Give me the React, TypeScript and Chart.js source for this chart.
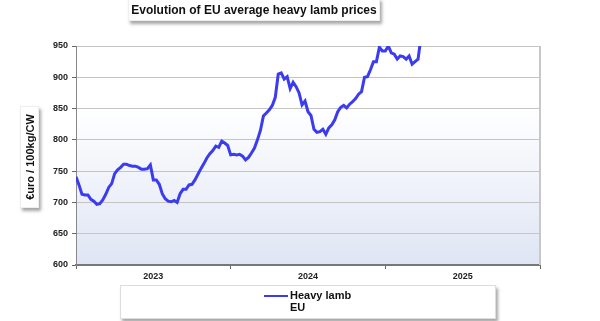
import React, { useEffect, useRef } from "react";
import { Chart, registerables } from "chart.js";

Chart.register(...registerables);

const chartTitle = "Evolution of EU average heavy lamb prices";
const yAxisTitle = "€uro / 100kg/CW";
const seriesName = ["Heavy lamb", "EU"];
const yearLabels = ["2023", "2024", "2025"];
const weeksPerYear = 52;
const yMin = 600;
const yMax = 950;
const yStep = 50;

// weekly prices, week 1 of 2023 onward
const heavyLambEU = [
  741, 728, 713, 712, 712, 705, 702, 697, 698, 704,
  713, 724, 730, 746, 752, 756, 761, 761, 759, 758,
  758, 756, 753, 753, 754, 760, 736, 736, 729, 714,
  706, 702, 701, 703, 700, 714, 721, 721, 728, 729,
  736, 745, 754, 762, 771, 778, 783, 790, 788, 798,
  795, 791, 776, 777, 776, 777, 774, 768, 772, 779,
  787, 800, 815, 838, 843, 848, 855, 868, 905, 907,
  897, 901, 882, 892, 885, 875, 856, 862, 845, 839,
  817, 812, 813, 817, 809, 819, 824, 832, 845, 852,
  855, 851, 857, 861, 866, 873, 877, 900, 901, 912,
  925, 925, 948, 942, 942, 950, 939, 937, 929, 934,
  933, 929, 934, 921, 925, 929, 965,
];

const plotDecor = {
  id: "plotDecor",
  beforeDraw(chart: any) {
    const { ctx, chartArea: a } = chart;
    if (!a) return;
    ctx.save();
    const g = ctx.createLinearGradient(0, a.top, 0, a.bottom);
    g.addColorStop(0, "#ffffff");
    g.addColorStop(0.28, "#ffffff");
    g.addColorStop(1, "#dfe5f4");
    ctx.fillStyle = g;
    ctx.fillRect(a.left, a.top, a.right - a.left, a.bottom - a.top);
    ctx.restore();
  },
  beforeDatasetsDraw(chart: any) {
    const { ctx, chartArea: a } = chart;
    ctx.save();
    ctx.strokeStyle = "#c8c8c8";
    ctx.lineWidth = 2;
    ctx.beginPath();
    ctx.moveTo(a.right, a.top);
    ctx.lineTo(a.right, a.bottom);
    ctx.stroke();
    ctx.restore();
  },
};

export default function App() {
  const ref = useRef<HTMLCanvasElement>(null);
  useEffect(() => {
    const total = weeksPerYear * yearLabels.length;
    const chart = new Chart(ref.current!, {
      type: "line",
      data: {
        datasets: [
          {
            label: seriesName.join(" "),
            data: heavyLambEU.map((v, i) => ({ x: i, y: v })),
            borderColor: "#3b3bef",
            borderWidth: 3,
            pointRadius: 0,
            tension: 0,
            clip: 0,
          } as any,
        ],
      },
      options: {
        animation: false,
        responsive: false,
        layout: { padding: { left: 40, right: 60, top: 46, bottom: 36 } },
        plugins: { legend: { display: false }, tooltip: { enabled: false } },
        scales: {
          x: {
            type: "linear",
            min: 0,
            max: total,
            afterFit: (s: any) => { s.height = 20; },
            afterBuildTicks: (s: any) => {
              const t = [];
              for (let v = 0; v <= total; v += weeksPerYear / 2) t.push({ value: v });
              s.ticks = t;
            },
            ticks: {
              autoSkip: false,
              maxRotation: 0,
              padding: 2,
              color: "#222",
              font: { family: "Liberation Sans, Arial", size: 9, weight: "bold" },
              callback: (v: any) => {
                const n = Number(v);
                if (n % weeksPerYear === weeksPerYear / 2) return yearLabels[Math.floor(n / weeksPerYear)];
                return "";
              },
            },
            grid: {
              drawOnChartArea: false,
              drawTicks: true,
              tickLength: 4,
              color: (c: any) => (c.tick && c.tick.value % weeksPerYear === 0 ? "#666" : "rgba(0,0,0,0)"),
            },
            border: { display: true, color: "#777", width: 2 },
          },
          y: {
            min: yMin,
            max: yMax,
            afterFit: (s: any) => { s.width = 36; },
            ticks: {
              stepSize: yStep,
              padding: 4,
              color: "#222",
              font: { family: "Liberation Sans, Arial", size: 9, weight: "bold" },
            },
            grid: { color: "#c4c4c4", lineWidth: 1, tickLength: 4, tickColor: "#666" },
            border: { display: true, color: "#888", width: 1 },
          },
        },
      },
      plugins: [plotDecor],
    } as any);
    return () => chart.destroy();
  }, []);

  const boxShadow = "2px 3px 3px rgba(0,0,0,0.35)";
  const font = "Liberation Sans, Arial, sans-serif";
  return (
    <div style={{ position: "fixed", left: 0, top: 0, width: 600, height: 321, background: "#fff", overflow: "hidden" }}>
      <canvas ref={ref} width={600} height={321} style={{ position: "absolute", left: 0, top: 0 }} />
      <div
        style={{
          position: "absolute", left: 128, top: -2, width: 250, height: 21,
          background: "#fff", boxShadow, border: "1px solid #eee",
          fontFamily: font, fontWeight: "bold", fontSize: 12, lineHeight: "22px",
          textAlign: "center", whiteSpace: "nowrap", color: "#111",
        }}
      >
        {chartTitle}
      </div>
      <div
        style={{
          position: "absolute", left: 20, top: 106, width: 17, height: 100,
          background: "#fff", boxShadow, border: "1px solid #eee",
        }}
      >
        <div
          style={{
            position: "absolute", left: "50%", top: "50%", transform: "translate(-50%,-50%) rotate(-90deg)",
            fontFamily: font, fontWeight: "bold", fontSize: 11, whiteSpace: "nowrap", color: "#111",
          }}
        >
          {yAxisTitle}
        </div>
      </div>
      <div
        style={{
          position: "absolute", left: 120, top: 285, width: 374, height: 32,
          background: "#fff", boxShadow, border: "1px solid #ddd",
        }}
      >
        <div style={{ position: "absolute", left: 143, top: 9, width: 24, height: 2, background: "#3b3bef" }} />
        <div
          style={{
            position: "absolute", left: 169, top: 3, fontFamily: font, fontWeight: "bold",
            fontSize: 11, lineHeight: "12px", color: "#111",
          }}
        >
          <div>{seriesName[0]}</div>
          <div>{seriesName[1]}</div>
        </div>
      </div>
    </div>
  );
}
